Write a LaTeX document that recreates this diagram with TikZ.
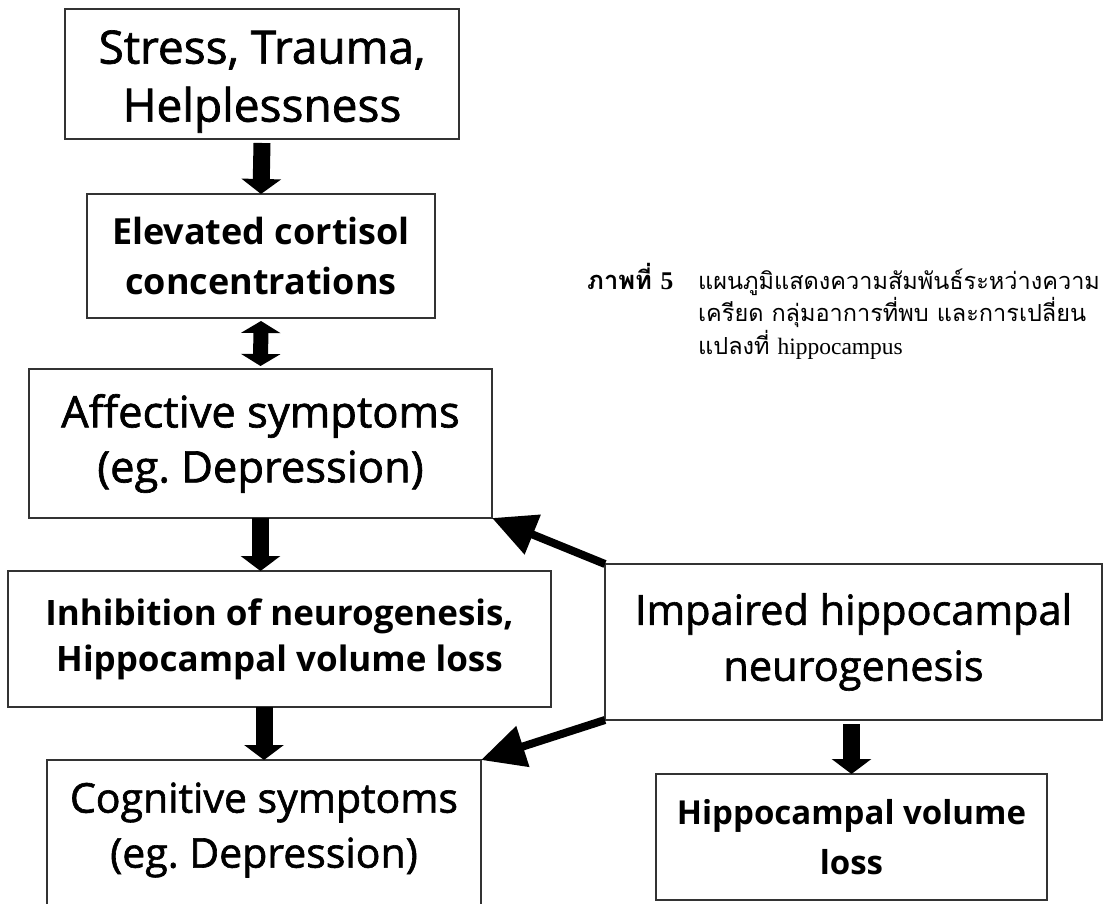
\documentclass[tikz,border=0pt]{standalone}
\usepackage{fontspec}
\setmainfont{Open Sans}
\newfontface\heavyfont[FakeBold=1.5]{Open Sans}
\newfontfamily\thaifont[Script=Thai]{Loma}
\newfontfamily\latinserif{Liberation Serif}
\usetikzlibrary{arrows.meta}
\begin{document}
\frenchspacing
\begin{tikzpicture}[x=1pt,y=-1pt,
  box/.style={draw=black!80, line width=1.6pt, fill=white, anchor=north west,
    inner sep=0pt, outer sep=0pt},
  boxtext/.style={inner sep=0pt, align=center, text=black},
  blkarrow/.style={line width=17pt, -{Triangle[width=39pt,length=15pt]}},
  dblarrow/.style={line width=15pt, {Triangle[width=39pt,length=12pt]}-{Triangle[width=39pt,length=12pt]}},
  diagarrow/.style={line width=8pt, -{Triangle[width=41pt,length=44pt]}},
  capline/.style={anchor=base west, inner sep=0pt, font=\thaifont\fontsize{23.5}{32}\selectfont}
]
\clip (0,0) rectangle (1104,904);
\fill[white] (0,0) rectangle (1104,904);

\node[box, minimum width=394pt, minimum height=130pt] (b1) at (65,9) {};
\node[boxtext, font=\heavyfont\fontsize{46}{58}\selectfont] (t1) at ([yshift=-7.5pt]b1.center) {Stress, Trauma,\\Helplessness};
\node[box, minimum width=348pt, minimum height=124pt] (b2) at (87,194) {};
\node[boxtext, font=\bfseries\fontsize{36}{51}\selectfont] (t2) at (b2.center) {Elevated cortisol\\concentrations};
\node[box, minimum width=463pt, minimum height=149pt] (b3) at (29,369) {};
\node[boxtext, font=\heavyfont\fontsize{43.5}{55}\selectfont] (t3) at (b3.center) {Affective symptoms\\(eg. Depression)};
\node[box, minimum width=543pt, minimum height=136pt] (b4) at (8,571) {};
\node[boxtext, font=\bfseries\fontsize{35}{46}\selectfont] (t4) at (b4.center) {Inhibition of neurogenesis,\\Hippocampal volume loss};
\node[box, minimum width=434pt, minimum height=150pt] (b5) at (47,760) {};
\node[boxtext, font=\heavyfont\fontsize{41}{55}\selectfont] (t5) at ([yshift=5pt]b5.center) {Cognitive symptoms\\(eg. Depression)};
\node[box, minimum width=497pt, minimum height=156pt] (b6) at (605,564) {};
\node[boxtext, font=\heavyfont\fontsize{41.5}{56}\selectfont] (t6) at (b6.center) {Impaired hippocampal\\neurogenesis};
\node[box, minimum width=391pt, minimum height=126pt] (b7) at (656,774) {};
\node[boxtext, font=\bfseries\fontsize{33}{50}\selectfont] (t7) at (b7.center) {Hippocampal volume\\loss};

\draw[blkarrow] ([yshift=-4pt]b1.south) -- (b2.north);
\draw[dblarrow] ([yshift=-3pt]b2.south) -- ([yshift=3pt]b3.north);
\draw[blkarrow] (b3.south) -- (b3.south |- b4.north);
\draw[blkarrow] (b5.north |- b4.south) -- (b5.north);
\draw[blkarrow] ([yshift=-4pt]b7.north |- b6.south) -- (b7.north);
\draw[diagarrow] (b6.north west) -- (b3.south east);
\draw[diagarrow] (b6.south west) -- (b5.north east);

\node[capline, font=\thaifont\bfseries\fontsize{25.5}{32}\selectfont] (caplabel) at (587,290) {ภาพที่ {\latinserif 5}};
\node[capline] (cap1) at (698,290) {แผนภูมิแสดงความสัมพันธ์ระหว่างความ};
\node[capline] (cap2) at (698,322) {เครียด กลุ่มอาการที่พบ และการเปลี่ยน};
\node[capline] (cap3) at (698,354) {แปลงที่ {\latinserif hippocampus}};
\end{tikzpicture}
\end{document}
